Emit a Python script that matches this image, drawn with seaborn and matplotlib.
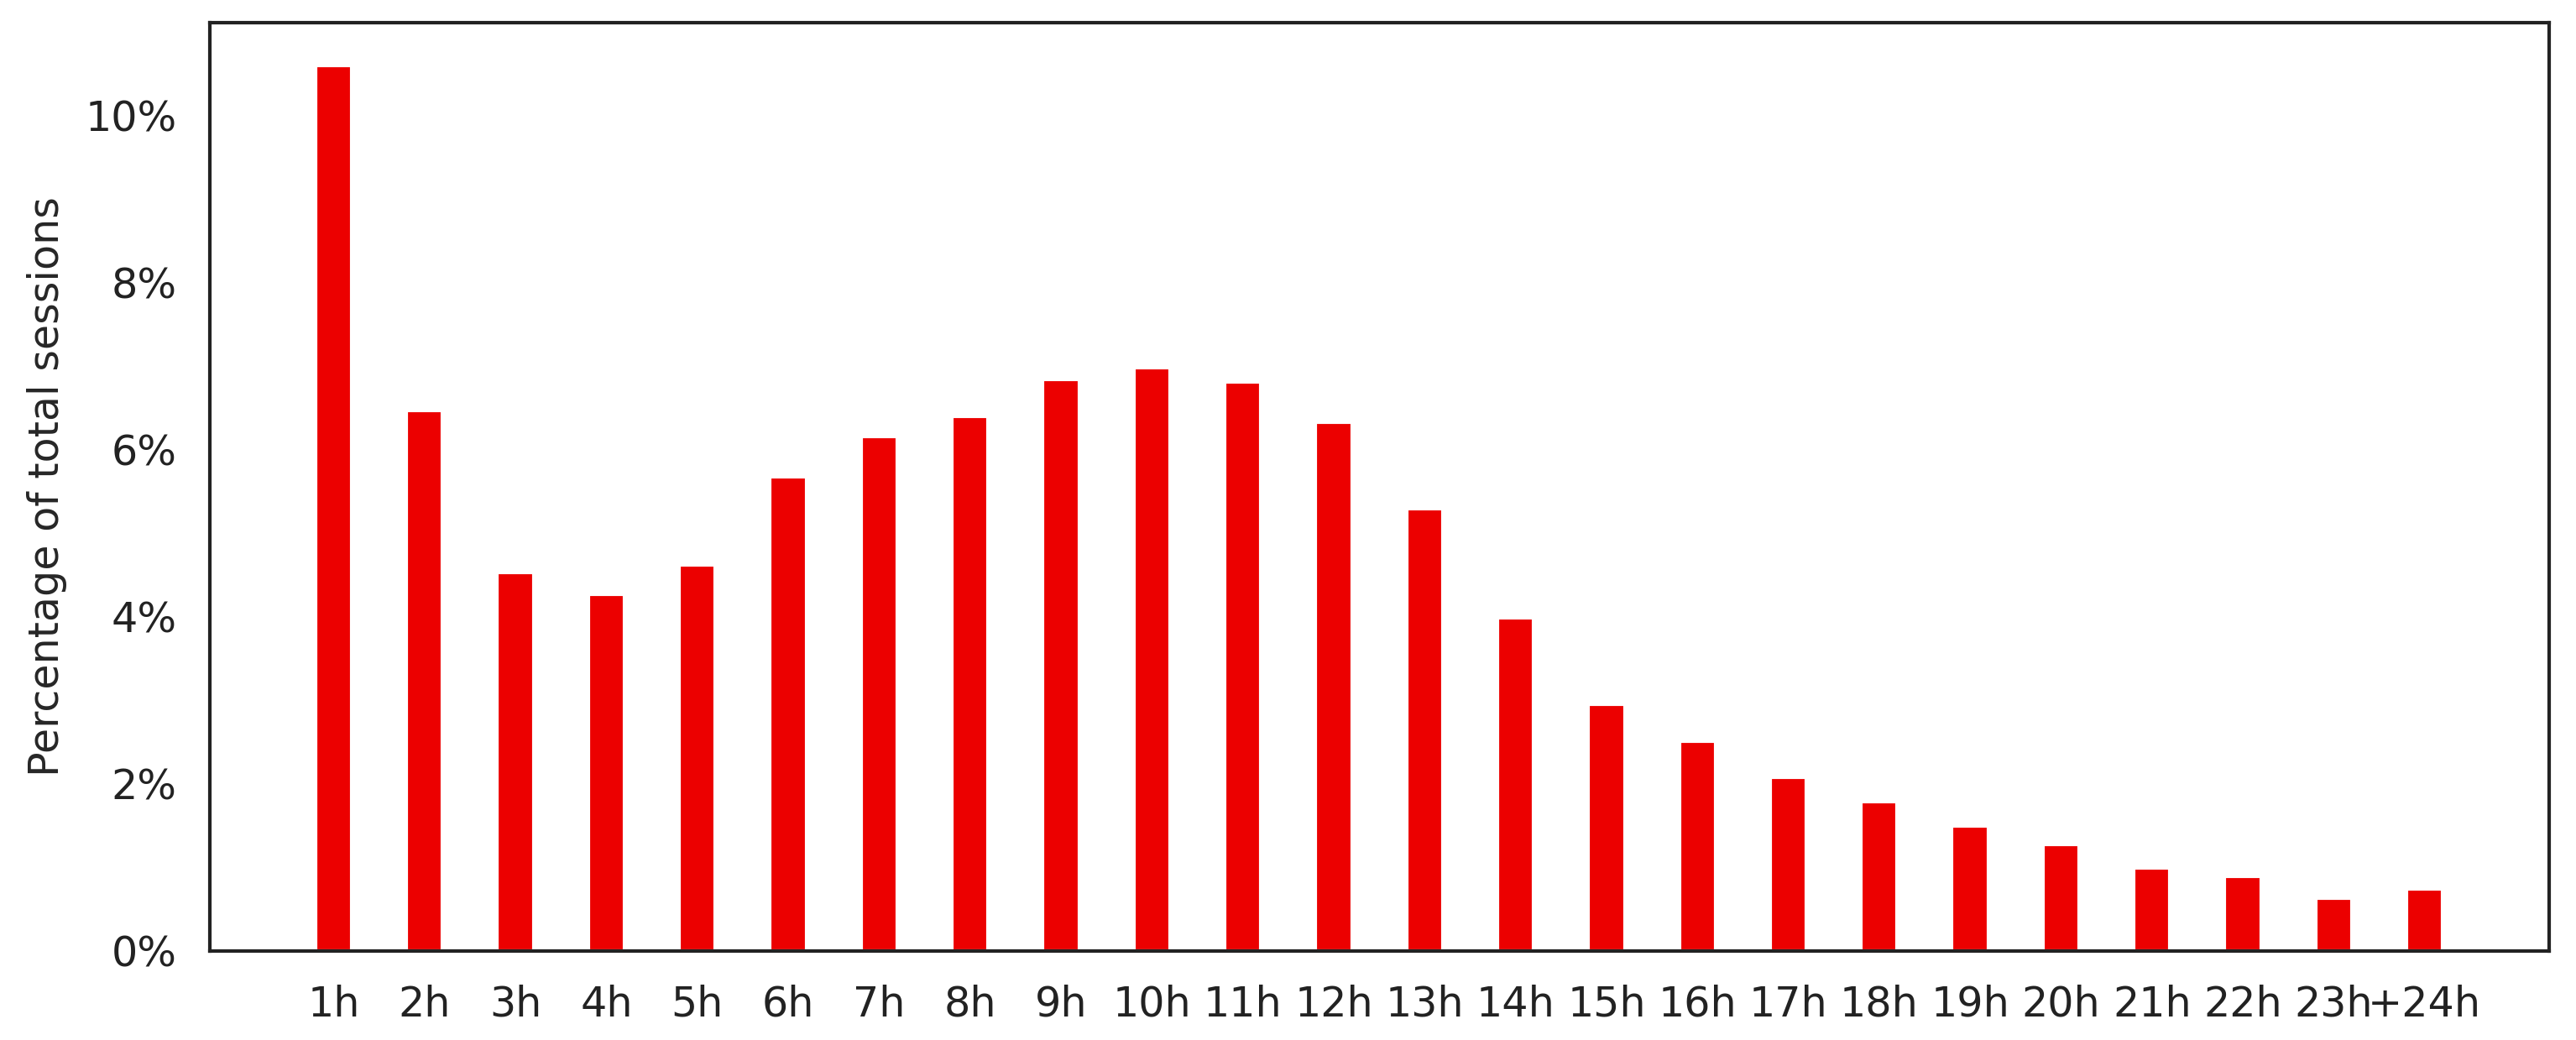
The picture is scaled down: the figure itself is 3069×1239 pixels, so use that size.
import numpy as np
import pandas as pd
import matplotlib
matplotlib.use('Agg')
import matplotlib.pyplot as plt
import matplotlib.ticker as mtick
import seaborn as sns

# session length buckets and share of sessions (%)
hours = ['1h', '2h', '3h', '4h', '5h', '6h', '7h', '8h', '9h', '10h', '11h', '12h',
         '13h', '14h', '15h', '16h', '17h', '18h', '19h', '20h', '21h', '22h', '23h', '+24h']
share = [10.60, 6.47, 4.53, 4.27, 4.62, 5.68, 6.16, 6.40, 6.84, 6.98, 6.81, 6.33,
         5.29, 3.99, 2.95, 2.51, 2.08, 1.79, 1.50, 1.28, 0.99, 0.89, 0.63, 0.74]

df = pd.DataFrame({'hours': hours, 'share': share})

sns.set_style('white')
plt.rcParams['font.family'] = ['DejaVu Sans']
plt.rcParams['font.size'] = 11.8
plt.rcParams['axes.linewidth'] = 1.0
plt.rcParams['xtick.major.size'] = 4.5
plt.rcParams['ytick.major.size'] = 4.5
plt.rcParams['xtick.major.width'] = 1.0
plt.rcParams['ytick.major.width'] = 1.0
plt.rcParams['xtick.major.pad'] = 5
plt.rcParams['ytick.major.pad'] = 5

fig = plt.figure(figsize=(10.23, 4.13), dpi=300)
ax = fig.add_axes([0.0815, 0.0856, 0.9081, 0.8926])

sns.barplot(data=df, x='hours', y='share', color='#ec0000', saturation=1,
            width=0.4, ax=ax)

ax.set_xlim(-1.36, 24.37)
ax.set_ylim(0, 11.11)
ax.set_yticks([0, 2, 4, 6, 8, 10])
ax.yaxis.set_major_formatter(mtick.FuncFormatter(lambda v, _: f'{v:.0f}%'))
ax.set_xlabel('')
ax.set_ylabel('Percentage of total sessions', labelpad=5)
ax.tick_params(axis='both', direction='out', colors='#222222', labelcolor='#222222')
for s in ax.spines.values():
    s.set_visible(True)
    s.set_color('#222222')

fig.savefig('out.png', dpi=300)
